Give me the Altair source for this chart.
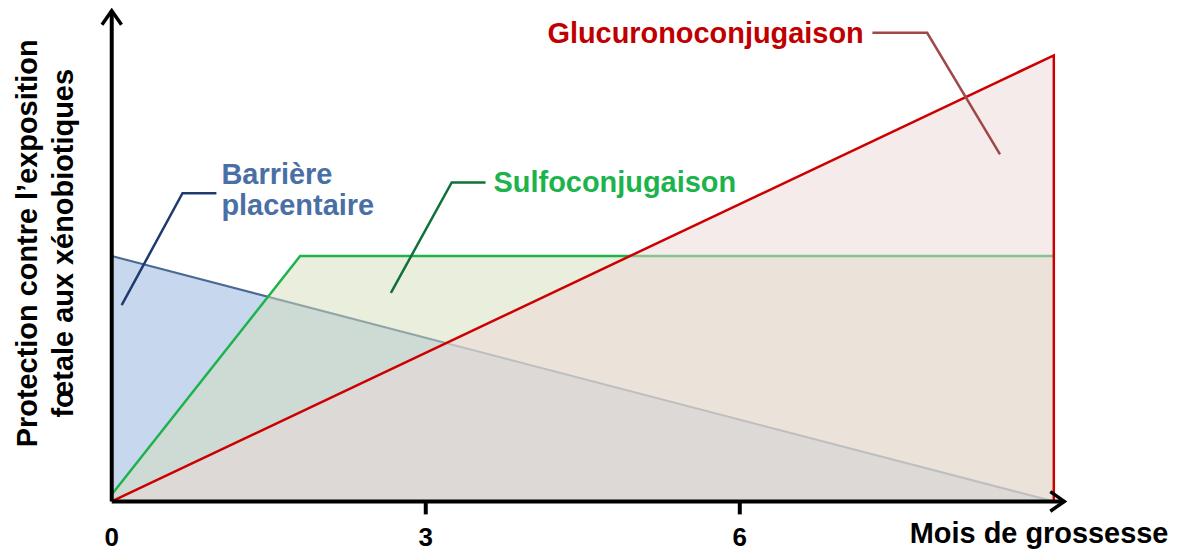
import altair as alt
import pandas as pd

# ---- data ----
blue_x = [0, 9]
blue_y = [5.0, 0.0]
green_x = [0, 1.8, 9]
green_y = [0.14, 5.0, 5.0]
red_x = [0, 9]
red_y = [0.0, 9.09]
red_outline_x = [0, 9, 9]
red_outline_y = [0.0, 9.09, 0.0]

tick_positions = [3, 6]
tick_label_pos = [0, 3, 6]
tick_labels = ["0", "3", "6"]

X_MAX = 9.1
Y_MAX = 10
W, H = 955, 492
FONT = "Liberation Sans"

xs = alt.Scale(domain=[0, X_MAX], nice=False, zero=False)
ys = alt.Scale(domain=[0, Y_MAX], nice=False, zero=False)


def X(f="x"):
    return alt.X(f"{f}:Q", scale=xs, axis=None)


def Y(f="y"):
    return alt.Y(f"{f}:Q", scale=ys, axis=None)


def series_df(xv, yv):
    return pd.DataFrame({"x": xv, "y": yv, "o": list(range(len(xv)))})


blue_df = series_df(blue_x, blue_y)
green_df = series_df(green_x, green_y)
red_df = series_df(red_x, red_y)
red_line_df = series_df(red_outline_x, red_outline_y)

blue_area = alt.Chart(blue_df).mark_area(color="#8DAFDD", opacity=0.5).encode(x=X(), y=Y())
blue_line = alt.Chart(blue_df).mark_line(color="#4A6A94", strokeWidth=2).encode(x=X(), y=Y(), order="o:Q")
green_area = alt.Chart(green_df).mark_area(color="#D5DDB9", opacity=0.5).encode(x=X(), y=Y())
green_line = alt.Chart(green_df).mark_line(color="#1DB34C", strokeWidth=2.5).encode(x=X(), y=Y(), order="o:Q")
red_area = alt.Chart(red_df).mark_area(color="#EBD7D7", opacity=0.5).encode(x=X(), y=Y())
red_line = alt.Chart(red_line_df).mark_line(color="#CC0000", strokeWidth=2.5).encode(x=X(), y=Y(), order="o:Q")

# ---- axes (lines + arrowheads + ticks) ----
yaxis_df = pd.DataFrame({"x": [0], "y": [0], "y2": [Y_MAX]})
xaxis_df = pd.DataFrame({"x": [0], "x2": [X_MAX], "y": [0]})
yaxis = alt.Chart(yaxis_df).mark_rule(color="black", strokeWidth=4).encode(
    x=X(), y=Y(), y2="y2:Q")
xaxis = alt.Chart(xaxis_df).mark_rule(color="black", strokeWidth=4).encode(
    x=X(), x2="x2:Q", y=Y())

up_arrow = alt.Chart(pd.DataFrame({"x": [0], "y": [Y_MAX]})).mark_point(
    shape="M-0.7,1L0,0L0.7,1", size=784, filled=False, stroke="black",
    strokeWidth=3.5, opacity=1).encode(x=X(), y=Y())
right_arrow = alt.Chart(pd.DataFrame({"x": [X_MAX], "y": [0]})).mark_point(
    shape="M-1,-0.7L0,0L-1,0.7", size=784, filled=False, stroke="black",
    strokeWidth=3.5, opacity=1).encode(x=X(), y=Y())

ticks = alt.Chart(pd.DataFrame({"x": tick_positions})).mark_rule(
    color="black", strokeWidth=4).encode(x=X(), y=alt.value(H), y2=alt.value(H + 13))

tick_text = alt.Chart(pd.DataFrame({"x": tick_label_pos, "t": tick_labels, "y": [-0.91] * 3})).mark_text(
    font=FONT, fontSize=26, fontWeight="bold", color="black", align="center",
    baseline="alphabetic").encode(x=X(), y=Y(), text="t:N")

x_title = alt.Chart(pd.DataFrame({"x": [10.095], "y": [-0.84], "t": ["Mois de grossesse"]})).mark_text(
    font=FONT, fontSize=29, fontWeight="bold", color="black", align="right",
    baseline="alphabetic").encode(x=X(), y=Y(), text="t:N")

y_title = alt.Chart(pd.DataFrame({
    "x": [-0.714, -0.371], "y": [5.26, 5.26],
    "t": ["Protection contre l\u2019exposition", "f\u0153tale aux x\u00e9nobiotiques"]})).mark_text(
    font=FONT, fontSize=29, fontWeight="bold", color="black", align="center",
    baseline="alphabetic", angle=270).encode(x=X(), y=Y(), text="t:N")

# ---- leaders ----
lead_blue = series_df([1.0, 0.676, 0.095], [6.28, 6.28, 4.0])
lead_green = series_df([3.571, 3.248, 2.667], [6.50, 6.50, 4.25])
lead_red = series_df([7.267, 7.79, 8.486], [9.55, 9.55, 7.07])
leaders = [
    alt.Chart(lead_blue).mark_line(color="#1F3A6E", strokeWidth=2.5).encode(x=X(), y=Y(), order="o:Q"),
    alt.Chart(lead_green).mark_line(color="#10703A", strokeWidth=2.5).encode(x=X(), y=Y(), order="o:Q"),
    alt.Chart(lead_red).mark_line(color="#A04848", strokeWidth=2.5).encode(x=X(), y=Y(), order="o:Q"),
]

labels_df = pd.DataFrame({
    "x": [1.048, 1.048, 3.648, 4.162],
    "y": [6.46, 5.83, 6.30, 9.35],
    "t": ["Barri\u00e8re", "placentaire", "Sulfoconjugaison", "Glucuronoconjugaison"],
    "c": ["#4A6FA5", "#4A6FA5", "#1DB34C", "#C00000"],
})
labels = alt.Chart(labels_df).mark_text(
    font=FONT, fontSize=29, fontWeight="bold", align="left", baseline="alphabetic").encode(
    x=X(), y=Y(), text="t:N", color=alt.Color("c:N", scale=None))

chart = alt.layer(
    blue_area, blue_line, green_area, green_line, red_area, red_line,
    yaxis, xaxis, up_arrow, right_arrow, ticks, tick_text, x_title, y_title,
    *leaders, labels,
).properties(
    width=W, height=H,
    autosize=alt.AutoSizeParams(type="none"),
    padding={"left": 104, "top": 2, "right": 110, "bottom": 48},
    background="white",
).configure_view(stroke=None)

chart.save("out.html", embed_options={"renderer": "svg", "actions": False})
